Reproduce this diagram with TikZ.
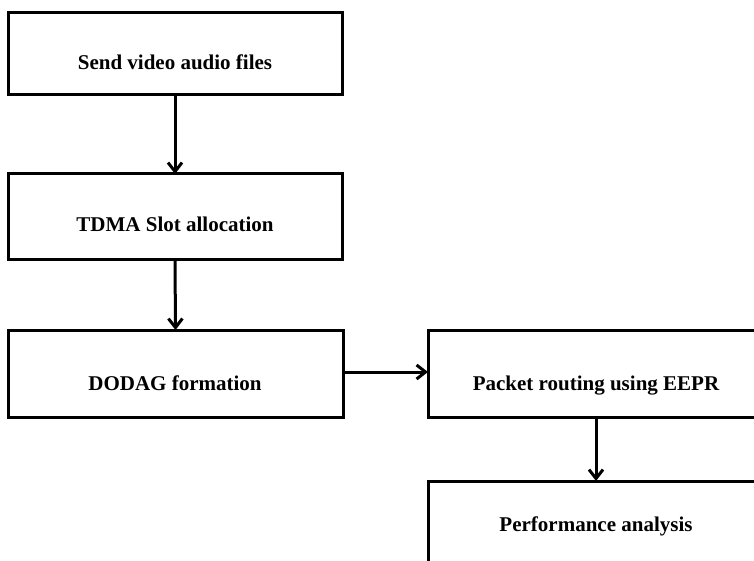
\documentclass[tikz,border=0pt]{standalone}
\usepackage{fontspec}
\setmainfont{Liberation Serif}
\usetikzlibrary{arrows.meta}
\tikzset{
  box/.style={draw=black, line width=3pt, rectangle, inner sep=0pt, outer sep=0pt},
  lbl/.style={font=\fontsize{21}{25}\selectfont\bfseries, text=black, inner sep=0pt, anchor=base},
  conn/.style={draw=black, line width=3pt, -{Straight Barb[length=9pt, width=14pt, line width=3pt]}}
}
\begin{document}
\begin{tikzpicture}[x=1pt, y=-1pt]
\useasboundingbox (0,0) rectangle (754,561);
\clip (0,0) rectangle (754,561);
\fill[white] (0,0) rectangle (754,561);
\node[box, minimum width=334pt, minimum height=82pt] (b1) at (175,54) {};
\node[box, minimum width=334pt, minimum height=85pt] (b2) at (175,216.5) {};
\node[box, minimum width=335pt, minimum height=87pt] (b3) at (175.5,373.5) {};
\node[box, minimum width=336pt, minimum height=87pt] (b4) at (596,373.5) {};
\node[box, minimum width=336pt, minimum height=160pt] (b5) at (596,561) {};
\node[lbl] (t1) at (175,70) {Send video audio files};
\node[lbl] (t2) at (175,231.5) {TDMA Slot allocation};
\node[lbl] (t3) at (175,390) {DODAG formation};
\node[lbl] (t4) at (596,390) {Packet routing using EEPR};
\node[lbl] (t5) at (596,531) {Performance analysis};
\draw[conn] (b1.south) -- (b2.north);
\draw[conn] (b2.south) -- (b3.north);
\draw[conn] (b3.east |- 0,372) -- (b4.west |- 0,372);
\draw[conn] (b4.south) -- (b5.north);
\end{tikzpicture}
\end{document}
